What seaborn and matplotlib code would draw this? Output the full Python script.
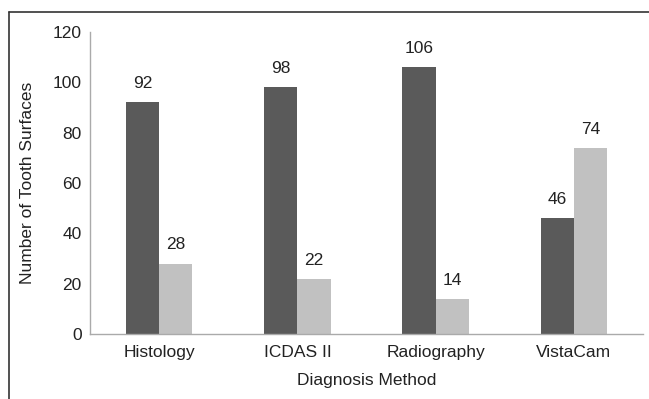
import matplotlib
matplotlib.use("Agg")
import matplotlib.pyplot as plt
from matplotlib.lines import Line2D
import seaborn as sns
import pandas as pd

methods = ["Histology", "ICDAS II", "Radiography", "VistaCam"]
dark_vals = [92, 98, 106, 46]
light_vals = [28, 22, 14, 74]
series = ["A", "B"]

df = pd.DataFrame({
    "method": methods * 2,
    "series": [series[0]] * 4 + [series[1]] * 4,
    "value": dark_vals + light_vals,
})

sns.set_style("white")
plt.rcParams["font.family"] = ["Liberation Sans", "DejaVu Sans"]

fig = plt.figure(figsize=(6.49, 3.99), dpi=100)
ax = fig.add_axes([90 / 649, 1 - 334 / 399, (643 - 90) / 649, (334 - 32) / 399])

sns.barplot(data=df, x="method", y="value", hue="series",
            palette=["#5a5a5a", "#c1c1c1"], width=0.48, saturation=1,
            linewidth=0, legend=False, ax=ax)

for cont in ax.containers:
    for bar in cont:
        h = bar.get_height()
        ax.annotate(f"{h:.0f}", (bar.get_x() + bar.get_width() / 2, h),
                    xytext=(0, 8), textcoords="offset points",
                    ha="center", va="bottom", fontsize=12.5, color="#222222")

ax.set_ylim(0, 120)
ax.set_yticks(range(0, 121, 20))
ax.set_xlim(-0.5, 3.5)
ax.set_xlabel("Diagnosis Method", fontsize=12.5, color="#222222", labelpad=9)
ax.set_ylabel("Number of Tooth Surfaces", fontsize=12.5, color="#222222", labelpad=13)
ax.tick_params(axis="both", labelsize=12.5, colors="#222222", length=0)
ax.tick_params(axis="x", pad=8)
ax.tick_params(axis="y", pad=6)
for s in ["top", "right"]:
    ax.spines[s].set_visible(False)
for s in ["left", "bottom"]:
    ax.spines[s].set_color("#aaaaaa")
    ax.spines[s].set_linewidth(1.0)

# outer frame (only left and top edges visible in the crop)
fig.add_artist(Line2D([9 / 649, 9 / 649], [0, 1 - 12 / 399], transform=fig.transFigure,
                      color="#333333", linewidth=1.2))
fig.add_artist(Line2D([9 / 649, 1], [1 - 12 / 399, 1 - 12 / 399], transform=fig.transFigure,
                      color="#333333", linewidth=1.2))

fig.savefig("out.png", dpi=100)
